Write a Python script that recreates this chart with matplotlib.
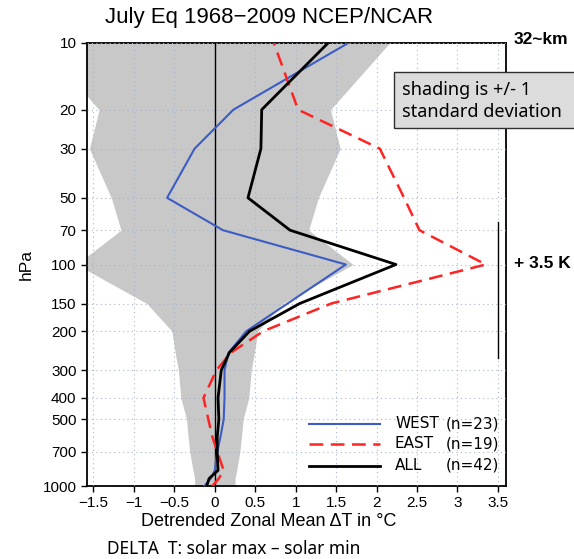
import numpy as np
import matplotlib
matplotlib.use("Agg")
import matplotlib.pyplot as plt
from matplotlib.patches import Rectangle
from matplotlib.lines import Line2D

# pressure levels (hPa) and detrended zonal mean dT (degC)
levels = [1000, 925, 850, 700, 600, 500, 400, 300, 250, 200, 150, 100, 70, 50, 30, 20, 10]
west_dt = [-0.13, -0.05, 0.00, 0.03, 0.07, 0.11, 0.12, 0.12, 0.17, 0.39, 0.90, 1.62, 0.10, -0.59, -0.25, 0.23, 1.65]
east_dt = [-0.03, 0.05, 0.11, 0.03, -0.03, -0.08, -0.14, 0.02, 0.20, 0.60, 1.44, 3.35, 2.53, 2.34, 2.04, 1.03, 0.73]
all_dt = [-0.10, -0.07, 0.04, 0.03, 0.03, 0.05, 0.04, 0.08, 0.18, 0.43, 1.05, 2.24, 0.93, 0.41, 0.57, 0.58, 1.40]
sd = [0.25, 0.25, 0.27, 0.31, 0.33, 0.35, 0.42, 0.45, 0.49, 0.53, 0.84, 1.71, 1.16, 1.28, 1.55, 1.43, 2.16]

series_labels = ["WEST", "EAST", "ALL"]
series_n = [23, 19, 42]
yticks = [10, 20, 30, 50, 70, 100, 150, 200, 300, 400, 500, 700, 1000]
xticks = [-1.5, -1, -0.5, 0, 0.5, 1, 1.5, 2, 2.5, 3, 3.5]

W, H = 574, 559
fig = plt.figure(figsize=(W / 100, H / 100), dpi=100)
ax = fig.add_axes([87 / W, 1 - 486 / H, (506 - 87) / W, (486 - 43) / H])

sd = np.array(sd)
ax.fill_betweenx(levels, -sd, sd, color="#c8c8c8", lw=0, zorder=1)

ax.grid(True, color="#a8b4c8", ls=(0, (1, 3)), lw=0.8)
ax.set_axisbelow(False)
ax.axvline(0, color="black", lw=1.0, zorder=3)

styles = [dict(color="#3c5cc4", lw=1.5),
          dict(color="#ff2424", lw=1.8, ls=(0, (5.5, 3))),
          dict(color="black", lw=2.0)]
ax.plot(west_dt, levels, zorder=3, **styles[0])
ax.plot(east_dt, levels, zorder=3, **styles[1])
ax.plot(all_dt, levels, zorder=4, **styles[2])

ax.set_yscale("log")
ax.set_ylim(1000, 10)
ax.set_xlim(-1.58, 3.6)
ax.set_yticks(yticks)
ax.set_yticklabels([str(t) for t in yticks])
ax.yaxis.set_minor_locator(matplotlib.ticker.NullLocator())
ax.set_xticks(xticks)
ax.set_xticklabels(["\u22121.5", "\u22121", "\u22120.5", "0", "0.5", "1", "1.5", "2", "2.5", "3", "3.5"])
ax.tick_params(labelsize=11, length=4, width=1, direction="out")
for lab in ax.get_xticklabels() + ax.get_yticklabels():
    lab.set_family("Liberation Sans")
for s in ax.spines.values():
    s.set_linewidth(1.3)

ax.set_ylabel("hPa", fontsize=12.5, family="Liberation Sans", labelpad=6)
fig.text(269 / W, 1 - 521 / H, "Detrended Zonal Mean \u0394T in \u00b0C", fontsize=13,
         family="Liberation Sans", ha="center", va="center")

# range bar on the right
ax.axvline(3.5, ymin=1 - (358 - 43) / 443, ymax=1 - (222 - 43) / 443,
           color="black", lw=1.0, zorder=5)

# legend, drawn by hand so the (n=..) column lines up
rows_y = [424, 444, 465.5]
for lab, n, st, yy in zip(series_labels, series_n, styles, rows_y):
    fy = 1 - yy / H
    fig.add_artist(Line2D([309 / W, 380 / W], [fy, fy], **st))
    fig.text(395 / W, fy, lab, fontsize=11, family="DejaVu Sans", va="center")
    fig.text(446 / W, fy, "(n=%d)" % n, fontsize=11, family="DejaVu Sans", va="center")

fig.text(269 / W, 1 - 17 / H, "July Eq 1968\u22122009 NCEP/NCAR", fontsize=16,
         family="Liberation Sans", ha="center", va="center")
fig.text(514 / W, 1 - 40 / H, "32~km", fontsize=12.5, fontweight="bold",
         family="Liberation Sans", va="center")
fig.text(514 / W, 1 - 264 / H, "+ 3.5 K", fontsize=12.5, fontweight="bold",
         family="Liberation Sans", va="center")
fig.text(107 / W, 1 - 549 / H, "DELTA  T: solar max \u2013 solar min", fontsize=12.5,
         family="Noto Sans", va="center")

box = Rectangle((394 / W, 1 - 128 / H), (574 - 394) / W + 0.01, (128 - 72) / H,
                transform=fig.transFigure, facecolor="#dcdcdc", edgecolor="#303030",
                lw=1.0, zorder=6)
fig.add_artist(box)
fig.text(402 / W, 1 - 90 / H, "shading is +/- 1", fontsize=13, family="Noto Sans",
         va="center", zorder=7)
fig.text(402 / W, 1 - 112 / H, "standard deviation", fontsize=13, family="Noto Sans",
         va="center", zorder=7)

fig.savefig("out.png", dpi=100)
